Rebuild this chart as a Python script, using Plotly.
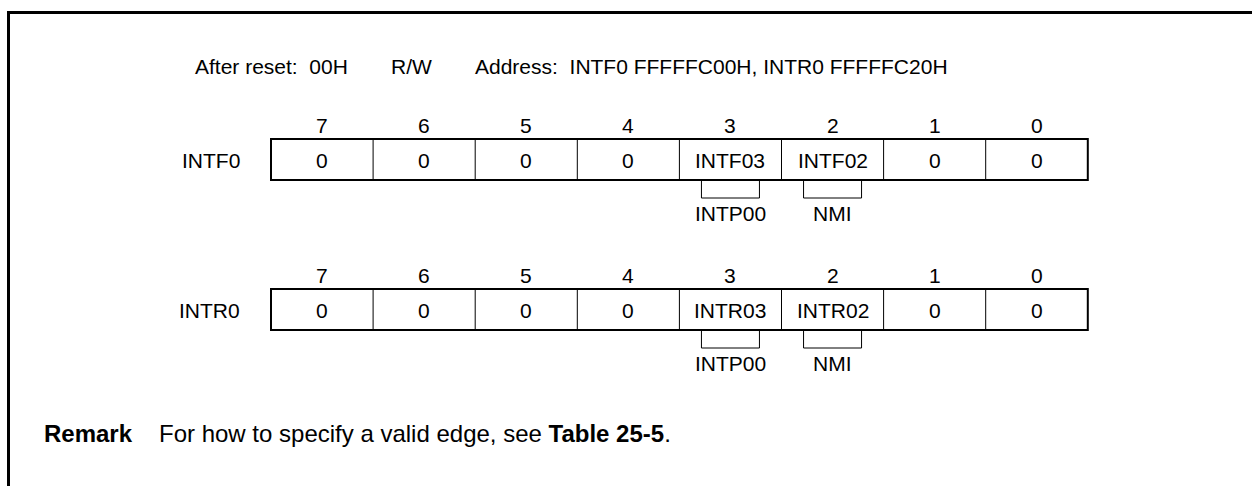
import plotly.graph_objects as go

# ---- data ----
register_names = ["INTF0", "INTR0"]
bit_numbers = [7, 6, 5, 4, 3, 2, 1, 0]
intf0_cells = ["0", "0", "0", "0", "INTF03", "INTF02", "0", "0"]
intr0_cells = ["0", "0", "0", "0", "INTR03", "INTR02", "0", "0"]
bracket_bits = [3, 2]
bracket_labels = ["INTP00", "NMI"]
header_after_reset = "After reset:  00H"
header_rw = "R/W"
header_address = "Address:  INTF0 FFFFFC00H, INTR0 FFFFFC20H"
remark_title = "Remark"
remark_text = "For how to specify a valid edge, see <b>Table 25-5</b>."

# ---- layout constants ----
W, H = 1252, 486
FONT = "Liberation Sans, Arial, Helvetica, sans-serif"
FS = 21
FS_REMARK = 24
X0 = 271.0
CW = 102.1
ROW_TOP = [139, 289]
BOX_H = 41
BR_HALF = 29
BR_DROP = 18

fig = go.Figure()
shapes = []
annotations = []

# frame
shapes.append(dict(type="line", x0=7, x1=W, y0=12.5, y1=12.5, line=dict(color="black", width=3)))
shapes.append(dict(type="line", x0=8.5, x1=8.5, y0=11, y1=H, line=dict(color="black", width=3)))

def text(x, y, s, anchor="center", bold=False, size=FS):
    annotations.append(dict(x=x, y=y, text=(f"<b>{s}</b>" if bold else s), showarrow=False,
                            xanchor=anchor, yanchor="middle",
                            font=dict(family=FONT, size=size, color="black")))

# header
text(193, 66, header_after_reset, "left")
text(389, 66, header_rw, "left")
text(473, 66, header_address, "left")

for r, (name, cells) in enumerate(zip(register_names, [intf0_cells, intr0_cells])):
    top = ROW_TOP[r]
    bot = top + BOX_H
    for i, b in enumerate(bit_numbers):
        cx = X0 + (i + 0.5) * CW
        text(cx, top - 14, str(b))
        text(cx, (top + bot) / 2 + 1, cells[i])
        if i > 0:
            shapes.append(dict(type="line", x0=X0 + i * CW, x1=X0 + i * CW, y0=top, y1=bot,
                               line=dict(color="black", width=1)))
    shapes.append(dict(type="rect", x0=X0, x1=X0 + 8 * CW, y0=top, y1=bot,
                       line=dict(color="black", width=2)))
    text(242, (top + bot) / 2 + 1, name, "right")
    for bb, lab in zip(bracket_bits, bracket_labels):
        i = bit_numbers.index(bb)
        cx = X0 + (i + 0.5) * CW
        shapes.append(dict(type="path",
                           path=f"M {cx-BR_HALF},{bot} L {cx-BR_HALF},{bot+BR_DROP} L {cx+BR_HALF},{bot+BR_DROP} L {cx+BR_HALF},{bot}",
                           line=dict(color="black", width=1)))
        text(cx, bot + BR_DROP + 15, lab)

# remark
text(42, 433, remark_title, "left", bold=True, size=FS_REMARK)
text(157, 433, remark_text, "left", size=FS_REMARK)

fig.update_layout(
    width=W, height=H, margin=dict(l=0, r=0, t=0, b=0),
    paper_bgcolor="white", plot_bgcolor="white",
    xaxis=dict(range=[0, W], visible=False, fixedrange=True),
    yaxis=dict(range=[H, 0], visible=False, fixedrange=True),
    shapes=shapes, annotations=annotations, showlegend=False,
)
fig.write_html("out.html", config={"displayModeBar": False},
               post_script="document.body.style.margin='0px';document.body.style.overflow='hidden';")
